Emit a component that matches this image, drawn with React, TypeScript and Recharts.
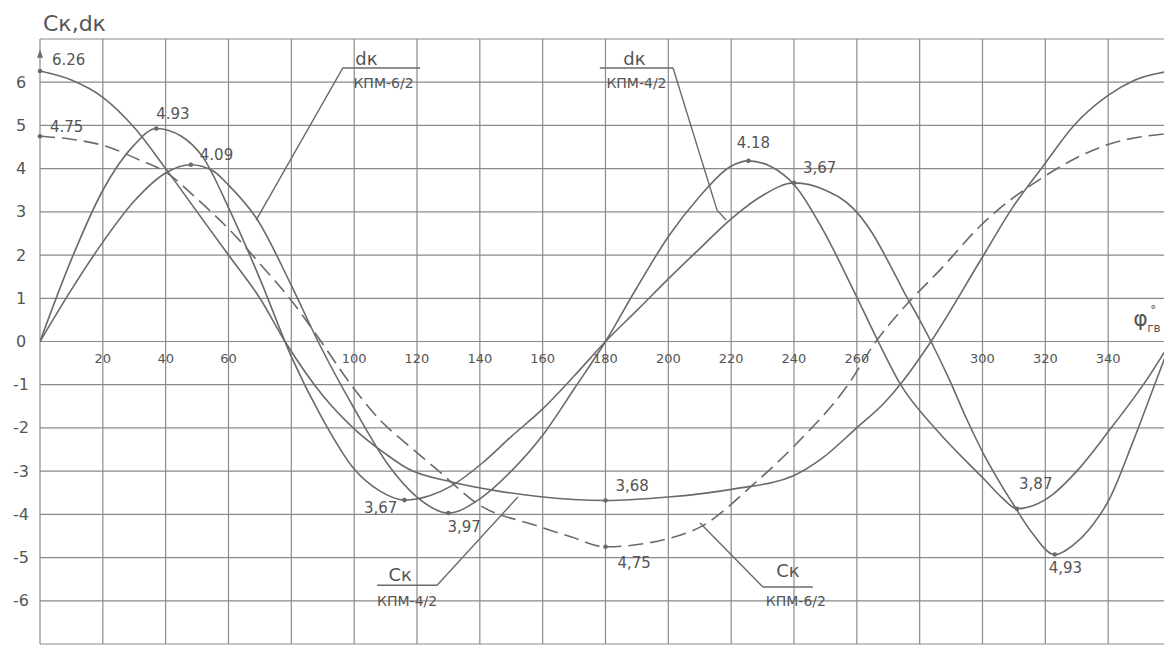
import React from 'react';
import { LineChart, Line, XAxis, YAxis, CartesianGrid, ReferenceDot, ReferenceLine } from 'recharts';

// ---------- axes ----------
const gridAngles = [0, 20, 40, 60, 80, 100, 120, 140, 160, 180, 200, 220, 240, 260, 280, 300, 320, 340, 360];
const gridValues = [-7, -6, -5, -4, -3, -2, -1, 0, 1, 2, 3, 4, 5, 6, 7];
const yTickLabels = [-6, -5, -4, -3, -2, -1, 0, 1, 2, 3, 4, 5, 6];
const xTickLabels = [20, 40, 60, 100, 120, 140, 160, 180, 200, 220, 240, 260, 300, 320, 340];

// ---------- series ----------
// Ск  КПМ-4/2 (solid, 6.26 at 0)
const ckKpm42Angles = [0, 10, 20, 30, 40, 50, 60, 70, 78, 90, 100, 110, 117, 131, 145, 158, 180, 200, 221, 240, 249, 259.6, 269, 274.5, 283.6, 299.7, 309.3, 319.5, 329.1, 340.1, 348.2, 360];
const ckKpm42Values = [6.26, 6.05, 5.65, 4.95, 4.0, 3.0, 2.0, 1.0, 0, -1.25, -2.02, -2.6, -2.94, -3.25, -3.45, -3.58, -3.68, -3.6, -3.41, -3.1, -2.7, -2.02, -1.4, -0.93, 0, 1.92, 3.07, 4.08, 5.0, 5.7, 6.04, 6.26];

// Ск  КПМ-6/2 (dashed, 4.75 at 0)
const ckKpm62Angles = [0, 10, 20, 32, 40, 50, 63, 70, 80, 88.5, 99, 108, 118.5, 126, 140, 158, 169, 180, 200, 211, 226.7, 240.3, 257.2, 266.1, 274.5, 286.8, 299.5, 318.6, 339.2, 360];
const ckKpm62Values = [4.75, 4.68, 4.54, 4.19, 3.92, 3.3, 2.38, 1.8, 0.95, 0.1, -1.0, -1.8, -2.48, -2.94, -3.79, -4.26, -4.52, -4.75, -4.56, -4.26, -3.33, -2.4, -1.0, 0, 0.75, 1.68, 2.69, 3.77, 4.54, 4.82];

// dк  КПМ-4/2 (solid, 4.93 peak)
const dkKpm42Angles = [0, 10, 20, 30, 37, 45, 52, 60, 70, 80, 90, 100, 108, 116, 124, 131, 141, 150, 160, 170, 180, 190, 200, 210, 220, 230, 240, 250, 259, 265, 270, 275, 280, 283.6, 289.3, 295, 300.7, 305, 310, 316, 323, 329, 335, 340, 348, 355.5, 360];
const dkKpm42Values = [0, 1.9, 3.5, 4.55, 4.93, 4.75, 4.25, 3.1, 1.45, -0.35, -1.8, -2.95, -3.45, -3.67, -3.57, -3.34, -2.8, -2.2, -1.56, -0.8, 0, 0.72, 1.45, 2.15, 2.84, 3.38, 3.67, 3.5, 3.07, 2.5, 1.85, 1.15, 0.5, 0, -0.86, -1.8, -2.65, -3.2, -3.79, -4.45, -4.93, -4.7, -4.25, -3.7, -2.3, -0.86, 0];

// dк  КПМ-6/2 (solid, 4.09 peak)
const dkKpm62Angles = [0, 10, 20, 30, 40, 48, 55, 60, 69, 80, 88.5, 100, 111, 120, 130, 140, 150, 160, 170, 180, 190, 200.3, 209.9, 219.8, 225.5, 232.6, 240.4, 249.1, 258.9, 266.8, 273.7, 285.4, 300.7, 306, 311, 316, 322, 330, 340, 352.5, 360];
const dkKpm62Values = [0, 1.2, 2.3, 3.25, 3.9, 4.09, 3.95, 3.62, 2.84, 1.3, 0, -1.55, -2.87, -3.6, -3.97, -3.64, -3.0, -2.17, -1.1, 0, 1.25, 2.46, 3.35, 4.05, 4.18, 4.05, 3.6, 2.6, 1.19, 0, -0.97, -2.05, -3.2, -3.6, -3.87, -3.8, -3.56, -3.0, -2.09, -0.86, 0];

// marked (labelled) points
const markedAngles = [0, 0, 37, 48, 116, 130, 180, 180, 225.5, 240, 311, 323];
const markedValues = [6.26, 4.75, 4.93, 4.09, -3.67, -3.97, -3.68, -4.75, 4.18, 3.67, -3.87, -4.93];
const markedTexts = ['6.26', '4.75', '4.93', '4.09', '3,67', '3,97', '3,68', '4,75', '4.18', '3,67', '3,87', '4,93'];

// ---------- styles / label placement (pixels) ----------
const FONT = '"DejaVu Sans", "Liberation Sans", sans-serif';
const TEXT = '#555555';
const CURVE = '#6a6a6a';
const GRID = '#8a8a8a';

const markOffsets = [
  { ox: 12, oy: -6, anc: 'start' },
  { ox: 10, oy: -4, anc: 'start' },
  { ox: 0, oy: -9, anc: 'start' },
  { ox: 9, oy: -5, anc: 'start' },
  { ox: -7, oy: 13, anc: 'end' },
  { ox: -1, oy: 19, anc: 'start' },
  { ox: 10, oy: -10, anc: 'start' },
  { ox: 12, oy: 21, anc: 'start' },
  { ox: 5, oy: -13, anc: 'middle' },
  { ox: 9, oy: -10, anc: 'start' },
  { ox: 2, oy: -20, anc: 'start' },
  { ox: -6, oy: 18, anc: 'start' },
];

// fraction-style curve captions: bar ends & leader in data coordinates
const captions = [
  { num: 'dк', den: 'КПМ-6/2', bar: [96.4, 121.0], barY: 6.33, leader: [[96.4, 6.33], [68.8, 2.81]], numOx: -15, numOy: -3, denOx: 2, denOy: 20 },
  { num: 'dк', den: 'КПМ-4/2', bar: [178.2, 201.5], barY: 6.33, leader: [[201.5, 6.33], [215.5, 3.04], [218.4, 2.81]], numOx: -2, numOy: -3, denOx: 0, denOy: 20 },
  { num: 'Ск', den: 'КПМ-4/2', bar: [107.3, 126.4], barY: -5.64, leader: [[126.4, -5.64], [152.1, -3.6]], numOx: -7, numOy: -4, denOx: 0, denOy: 21 },
  { num: 'Ск', den: 'КПМ-6/2', bar: [230.1, 246.0], barY: -5.68, leader: [[230.1, -5.68], [210.1, -4.2]], numOx: 0, numOy: -10, denOx: 8, denOy: 19 },
];

const toPoints = (angles: number[], values: number[]) => angles.map((a, i) => ({ a, v: values[i] }));

const PointText = (props: any) => {
  const { viewBox, txt, ox = 0, oy = 0, anc = 'start', fs = 15 } = props;
  if (!viewBox) return null;
  const cx = viewBox.x + (viewBox.width || 0) / 2;
  const cy = viewBox.y + (viewBox.height || 0) / 2;
  return (
    <text x={cx + ox} y={cy + oy} textAnchor={anc} fontSize={fs} fontFamily={FONT} fill={TEXT}>
      {txt}
    </text>
  );
};

const PhiText = (props: any) => {
  const { viewBox } = props;
  if (!viewBox) return null;
  const cx = viewBox.x + (viewBox.width || 0) / 2;
  const cy = viewBox.y + (viewBox.height || 0) / 2;
  return (
    <g fontFamily={FONT} fill={TEXT}>
      <text x={cx} y={cy - 16} fontSize={22}>φ</text>
      <text x={cx + 14} y={cy - 10} fontSize={12}>гв</text>
      <text x={cx + 17} y={cy - 28} fontSize={12}>°</text>
    </g>
  );
};

const ArrowHead = (props: any) => {
  const { cx, cy } = props;
  if (cx == null || cy == null) return <g />;
  return <polygon points={`${cx - 3},${cy + 8} ${cx + 3},${cy + 8} ${cx},${cy}`} fill={CURVE} />;
};

const YTick = (props: any) => {
  const { y, payload } = props;
  if (!yTickLabels.includes(payload.value)) return <g />;
  return (
    <text x={21} y={y} dy={5.5} textAnchor="middle" fontSize={16} fontFamily={FONT} fill={TEXT}>
      {payload.value}
    </text>
  );
};

export default function App() {
  const series = [
    { key: 'ck42', data: toPoints(ckKpm42Angles, ckKpm42Values), dash: undefined },
    { key: 'ck62', data: toPoints(ckKpm62Angles, ckKpm62Values), dash: '15 7' },
    { key: 'dk42', data: toPoints(dkKpm42Angles, dkKpm42Values), dash: undefined },
    { key: 'dk62', data: toPoints(dkKpm62Angles, dkKpm62Values), dash: undefined },
  ];
  return (
    <div style={{ position: 'absolute', left: 0, top: 0, width: 1164, height: 645, overflow: 'hidden', background: '#ffffff' }}>
      <LineChart width={1171} height={645} margin={{ top: 39, right: 0, bottom: 1, left: 0 }}>
        <CartesianGrid stroke={GRID} strokeWidth={1.2} vertical={false} />
        <XAxis
          type="number"
          dataKey="a"
          domain={[0, 360]}
          ticks={gridAngles}
          interval={0}
          height={0}
          tick={false}
          axisLine={false}
          tickLine={false}
          allowDataOverflow
        />
        <YAxis
          type="number"
          domain={[-7, 7]}
          ticks={gridValues}
          interval={0}
          width={40}
          axisLine={false}
          tickLine={false}
          tick={<YTick />}
          allowDataOverflow
        />
        {gridAngles.map((a) => (
          <ReferenceLine key={'vg' + a} x={a} stroke={GRID} strokeWidth={1.2} ifOverflow="visible" />
        ))}
        {series.map((s) => (
          <Line
            key={s.key}
            data={s.data}
            dataKey="v"
            type="monotone"
            stroke={CURVE}
            strokeWidth={1.6}
            strokeDasharray={s.dash}
            dot={false}
            activeDot={false}
            isAnimationActive={false}
          />
        ))}

        {captions.map((c, i) => (
          <ReferenceLine
            key={'bar' + i}
            segment={[{ x: c.bar[0], y: c.barY }, { x: c.bar[1], y: c.barY }]}
            stroke={CURVE}
            strokeWidth={1.4}
            ifOverflow="visible"
          />
        ))}
        {captions.flatMap((c, i) =>
          c.leader.slice(1).map((p, j) => (
            <ReferenceLine
              key={'ld' + i + '-' + j}
              segment={[{ x: c.leader[j][0], y: c.leader[j][1] }, { x: p[0], y: p[1] }]}
              stroke={CURVE}
              strokeWidth={1.4}
              ifOverflow="visible"
            />
          ))
        )}
        {captions.map((c, i) => (
          <ReferenceDot
            key={'num' + i}
            x={(c.bar[0] + c.bar[1]) / 2}
            y={c.barY}
            r={0}
            stroke="none"
            fill="none"
            ifOverflow="visible"
            label={<PointText txt={c.num} ox={c.numOx} oy={c.numOy} anc="middle" fs={18} />}
          />
        ))}
        {captions.map((c, i) => (
          <ReferenceDot
            key={'den' + i}
            x={(c.bar[0] + c.bar[1]) / 2}
            y={c.barY}
            r={0}
            stroke="none"
            fill="none"
            ifOverflow="visible"
            label={<PointText txt={c.den} ox={c.denOx} oy={c.denOy} anc="middle" fs={14} />}
          />
        ))}

        {markedAngles.map((a, i) => (
          <ReferenceDot
            key={'m' + i}
            x={a}
            y={markedValues[i]}
            r={2.3}
            fill={CURVE}
            stroke="none"
            ifOverflow="visible"
            label={<PointText txt={markedTexts[i]} ox={markOffsets[i].ox} oy={markOffsets[i].oy} anc={markOffsets[i].anc} fs={15} />}
          />
        ))}

        {xTickLabels.map((t) => (
          <ReferenceDot
            key={'xt' + t}
            x={t}
            y={0}
            r={0}
            stroke="none"
            fill="none"
            ifOverflow="visible"
            label={<PointText txt={String(t)} ox={0} oy={21} anc="middle" fs={13} />}
          />
        ))}

        <ReferenceDot x={0} y={6.75} r={3} ifOverflow="visible" shape={<ArrowHead />} />
        <ReferenceDot
          x={0}
          y={7}
          r={0}
          stroke="none"
          fill="none"
          ifOverflow="visible"
          label={<PointText txt="Ск,dк" ox={3} oy={-8} anc="start" fs={22} />}
        />
        <ReferenceDot x={348} y={0} r={0} stroke="none" fill="none" ifOverflow="visible" label={<PhiText />} />
      </LineChart>
    </div>
  );
}
